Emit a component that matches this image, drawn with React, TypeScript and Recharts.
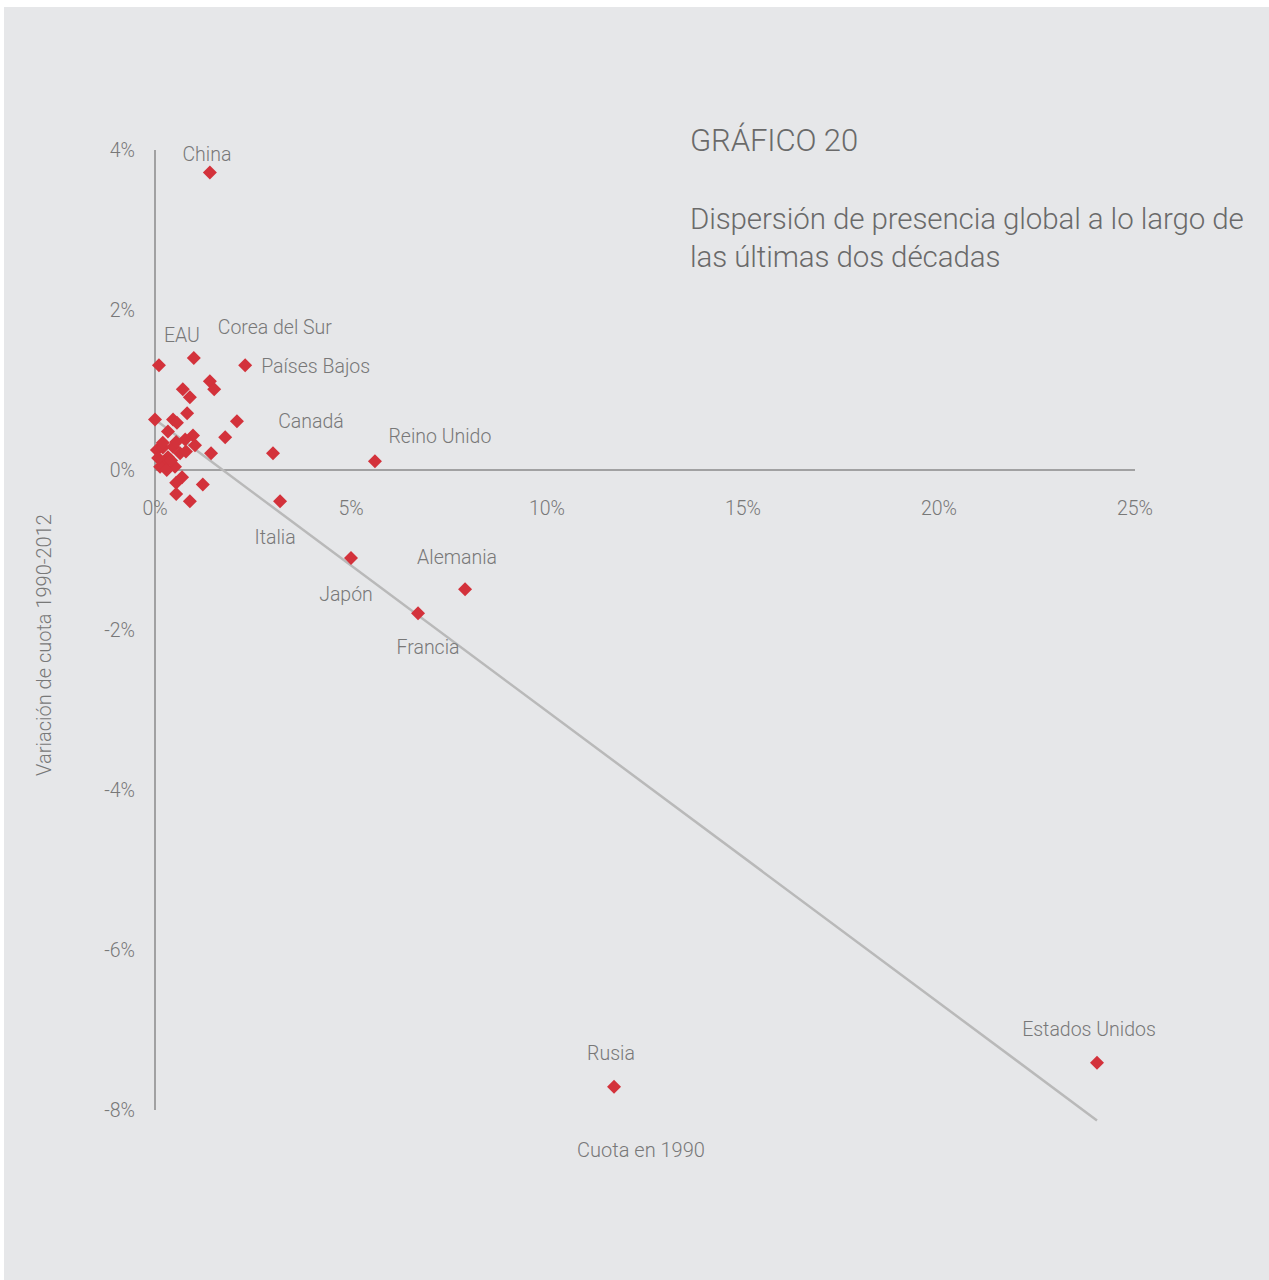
import { ScatterChart, Scatter, XAxis, YAxis, ReferenceLine, ReferenceDot } from 'recharts';

// labelled countries: share in 1990 (%) and change 1990-2012 (pp)
const countries = ['China', 'EAU', 'Corea del Sur', 'Países Bajos', 'Canadá', 'Reino Unido', 'Italia', 'Japón', 'Francia', 'Alemania', 'Rusia', 'Estados Unidos'];
const cuota1990 = [1.4, 0.1, 0.99, 2.3, 3.01, 5.61, 3.19, 5.0, 6.71, 7.91, 11.71, 24.03];
const variacion = [3.72, 1.31, 1.4, 1.31, 0.21, 0.11, -0.39, -1.1, -1.79, -1.49, -7.71, -7.41];

// the rest of the countries, no label
const otrosCuota = [0.71, 0.89, 1.4, 1.51, 0.82, 0.46, 0.0, 2.09, 1.79, 0.97, 1.02, 1.43, 1.22, 0.54, 0.54, 0.89, 0.56, 0.33, 0.77, 0.05, 0.2, 0.33, 0.26, 0.13, 0.51, 0.69, 0.46, 0.64, 0.79, 0.08, 0.3, 0.2, 0.54, 0.41];
const otrosVariacion = [1.01, 0.91, 1.11, 1.01, 0.71, 0.63, 0.63, 0.61, 0.41, 0.43, 0.31, 0.21, -0.18, -0.16, -0.3, -0.39, 0.59, 0.48, 0.38, 0.25, 0.28, 0.16, 0.09, 0.04, 0.04, -0.09, 0.29, 0.21, 0.23, 0.15, 0.0, 0.34, 0.35, 0.12];

const xTicks = [0, 5, 10, 15, 20, 25];
const yTicks = [4, 2, 0, -2, -4, -6, -8];
const trendStart = { x: 0, y: 0.63 };
const trendEnd = { x: 24.03, y: -8.13 };

const labelled = countries.map((name, i) => ({ name, x: cuota1990[i], y: variacion[i] }));
const others = otrosCuota.map((x, i) => ({ x, y: otrosVariacion[i] }));

const RED = '#d3323b';
const TEXT = '#787878';
const FONT = 'Roboto, "Liberation Sans", sans-serif';

const labelPos: Record<string, { dx: number; dy: number; anchor: string }> = {
  China: { dx: -3, dy: -18, anchor: 'middle' },
  EAU: { dx: 23, dy: -30, anchor: 'middle' },
  'Corea del Sur': { dx: 81, dy: -31, anchor: 'middle' },
  'Países Bajos': { dx: 16, dy: 1, anchor: 'start' },
  'Canadá': { dx: 38, dy: -32, anchor: 'middle' },
  'Reino Unido': { dx: 65, dy: -25, anchor: 'middle' },
  Italia: { dx: -5, dy: 36, anchor: 'middle' },
  'Japón': { dx: -5, dy: 36, anchor: 'middle' },
  Francia: { dx: 10, dy: 34, anchor: 'middle' },
  Alemania: { dx: -8, dy: -32, anchor: 'middle' },
  Rusia: { dx: -3, dy: -33, anchor: 'middle' },
  'Estados Unidos': { dx: -8, dy: -33, anchor: 'middle' },
};

const Diamond = (props: any) => {
  const { cx, cy, payload } = props;
  const r = 7;
  const pos = payload && payload.name ? labelPos[payload.name] : null;
  return (
    <g>
      <polygon points={`${cx},${cy - r} ${cx + r},${cy} ${cx},${cy + r} ${cx - r},${cy}`} fill={RED} />
      {pos && (
        <text x={cx + pos.dx} y={cy + pos.dy} textAnchor={pos.anchor} dominantBaseline="central"
          fill={TEXT} fontSize={19.5} fontWeight={300} fontFamily={FONT}>
          {payload.name}
        </text>
      )}
    </g>
  );
};

export default function App() {
  return (
    <div style={{ position: 'absolute', left: 4, top: 7, width: 1265, height: 1273, background: '#e6e7e9', fontFamily: FONT }}>
      <ScatterChart width={1265} height={1273} margin={{ top: 143, right: 134, bottom: 170, left: 91 }}>
        <XAxis type="number" dataKey="x" domain={[0, 25]} hide />
        <YAxis type="number" dataKey="y" domain={[-8, 4]} ticks={yTicks} width={60}
          axisLine={false} tickLine={false} tickMargin={14} interval={0}
          tickFormatter={(v: number) => `${v}%`}
          tick={{ fill: TEXT, fontSize: 19.5, fontWeight: 300, fontFamily: FONT }} />
        <ReferenceLine x={0} stroke="#8a8a8a" strokeWidth={1.5} />
        <ReferenceLine y={0} stroke="#8a8a8a" strokeWidth={1.5} />
        {xTicks.map((t) => (
          <ReferenceDot key={t} x={t} y={0} r={0} stroke="none"
            label={{ value: `${t}%`, position: 'bottom', offset: 31, fill: TEXT, fontSize: 19.5, fontWeight: 300, fontFamily: FONT }} />
        ))}
        <Scatter data={others} shape={Diamond} isAnimationActive={false} />
        <Scatter data={labelled} shape={Diamond} isAnimationActive={false} />
        <ReferenceLine segment={[trendStart, trendEnd]} stroke="#b9b9b9" strokeWidth={2.5} ifOverflow="visible" />
      </ScatterChart>
      <div style={{ position: 'absolute', left: 686, top: 116, fontSize: 31, fontWeight: 300, color: '#6a6a6a', lineHeight: '36px', whiteSpace: 'nowrap', letterSpacing: -0.1 }}>
        GRÁFICO 20
      </div>
      <div style={{ position: 'absolute', left: 686, top: 193, fontSize: 29.5, fontWeight: 300, color: '#6a6a6a', lineHeight: '38px', whiteSpace: 'nowrap', letterSpacing: -0.1 }}>
        Dispersión de presencia global a lo largo de<br />las últimas dos décadas
      </div>
      <div style={{ position: 'absolute', left: 537, width: 200, top: 1131, textAlign: 'center', fontSize: 20, fontWeight: 300, color: TEXT, lineHeight: '24px' }}>
        Cuota en 1990
      </div>
      <div style={{ position: 'absolute', left: 40 - 150, width: 300, top: 638 - 12, textAlign: 'center', fontSize: 20, fontWeight: 300, color: TEXT, lineHeight: '24px', transform: 'rotate(-90deg)', whiteSpace: 'nowrap' }}>
        Variación de cuota 1990-2012
      </div>
    </div>
  );
}
